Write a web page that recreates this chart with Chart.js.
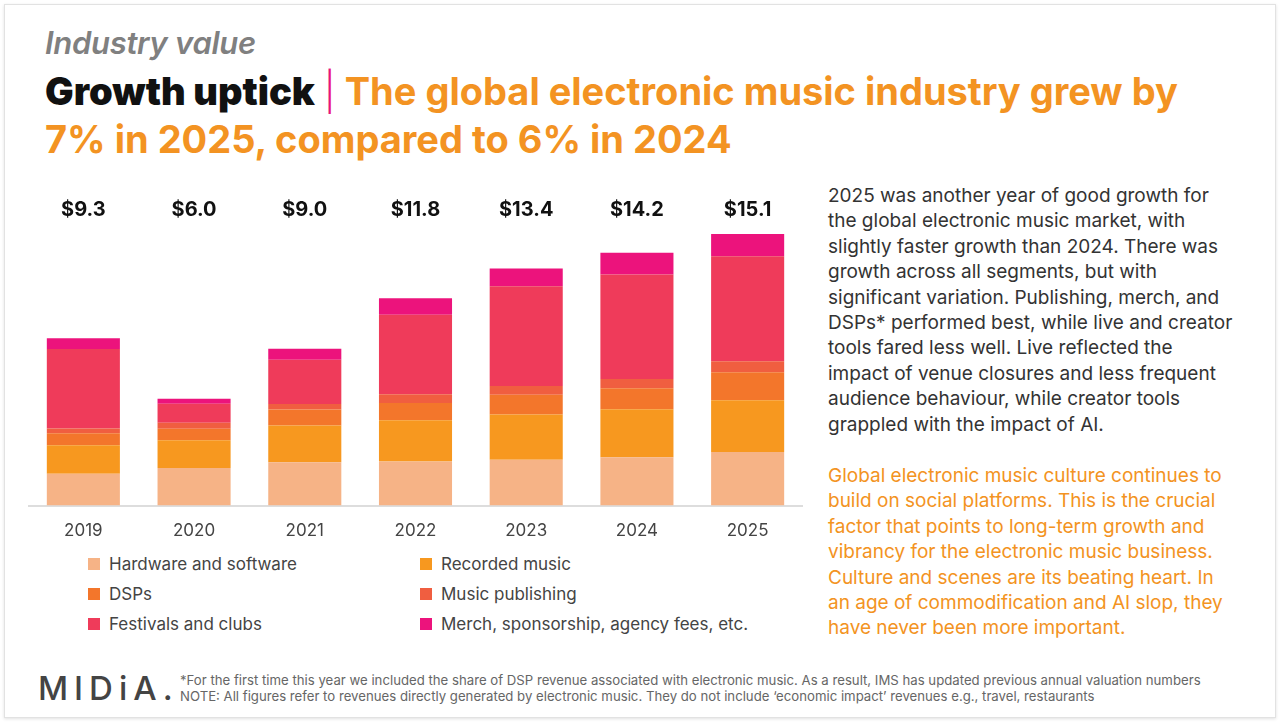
<!DOCTYPE html>
<html>
<head>
<meta charset="utf-8">
<script src="https://cdn.jsdelivr.net/npm/chart.js@4"></script>
<style>
  body { margin: 0; width: 1280px; height: 723px; background: #fff; font-family: Inter, "Noto Sans", sans-serif; overflow: hidden; position: relative; }
  .frame { position: absolute; left: 4px; top: 4px; width: 1270px; height: 712px; border: 1px solid #e2e2e2; box-shadow: 0 1px 3px rgba(0,0,0,0.12); }
  .kicker { position: absolute; left: 45px; top: 24px; font-size: 31px; font-style: italic; font-weight: 600; color: #808080; letter-spacing: -0.3px; }
  .title { position: absolute; left: 45px; top: 67px; width: 1220px; font-size: 38px; font-weight: 700; line-height: 48px; color: #f39322; letter-spacing: 0px; }
  .title b { color: #111; }
  .title .bar { color: #e8127c; font-weight: 300; }
  #wrap { position: absolute; left: 28px; top: 190px; width: 775px; height: 358px; }
  .legend { position: absolute; left: 88px; top: 552px; display: grid; grid-template-columns: 332px 350px; row-gap: 6px; font-size: 17px; color: #444; }
  .legend div { display: flex; align-items: center; height: 24px; }
  .legend span { display: inline-block; width: 12px; height: 12px; margin-right: 9px; }
  .side { position: absolute; left: 828px; top: 183px; width: 410px; font-size: 19px; line-height: 25.4px; color: #333; }
  .side2 { top: 463px; color: #f39322; }
  .logo { position: absolute; left: 38px; top: 668px; font-size: 33px; letter-spacing: 6px; color: #444; font-weight: 500; }
  .notes { position: absolute; left: 180px; top: 672px; font-size: 13.2px; line-height: 16px; color: #666; }
</style>
</head>
<body>
<div class="frame"></div>
<div class="kicker">Industry value</div>
<div class="title"><b>Growth uptick</b> <span class="bar">|</span> The global electronic music industry grew by<br>7% in 2025, compared to 6% in 2024</div>
<div id="wrap"><canvas id="chart"></canvas></div>
<div class="legend" id="legend"></div>
<div class="side">2025 was another year of good growth for the global electronic music market, with slightly faster growth than 2024. There was growth across all segments, but with significant variation. Publishing, merch, and DSPs* performed best, while live and creator tools fared less well. Live reflected the impact of venue closures and less frequent audience behaviour, while creator tools grappled with the impact of AI.</div>
<div class="side side2">Global electronic music culture continues to build on social platforms. This is the crucial factor that points to long-term growth and vibrancy for the electronic music business. Culture and scenes are its beating heart. In an age of commodification and AI slop, they have never been more important.</div>
<div class="logo">MIDiA.</div>
<div class="notes">*For the first time this year we included the share of DSP revenue associated with electronic music. As a result, IMS has updated previous annual valuation numbers<br>NOTE: All figures refer to revenues directly generated by electronic music. They do not include ‘economic impact’ revenues e.g., travel, restaurants</div>
<script>
const years = ["2019", "2020", "2021", "2022", "2023", "2024", "2025"];
const totals = ["$9.3", "$6.0", "$9.0", "$11.8", "$13.4", "$14.2", "$15.1"];
const hardware = [1.77, 2.08, 2.40, 2.45, 2.55, 2.68, 2.98];
const recorded = [1.58, 1.54, 2.05, 2.29, 2.50, 2.66, 2.87];
const dsps = [0.67, 0.65, 0.88, 0.95, 1.10, 1.17, 1.55];
const publishing = [0.26, 0.32, 0.30, 0.49, 0.49, 0.52, 0.61];
const festivals = [4.41, 1.06, 2.46, 4.41, 5.53, 5.79, 5.83];
const merch = [0.60, 0.28, 0.61, 0.91, 0.99, 1.21, 1.23];

const series = [
  ["Hardware and software", hardware, "#f6b386"],
  ["Recorded music", recorded, "#f7981f"],
  ["DSPs", dsps, "#f3762b"],
  ["Music publishing", publishing, "#f05e40"],
  ["Festivals and clubs", festivals, "#ef3b5a"],
  ["Merch, sponsorship, agency fees, etc.", merch, "#ec137c"]
];

const legend = document.getElementById("legend");
series.forEach(s => {
  const d = document.createElement("div");
  d.innerHTML = '<span style="background:' + s[2] + '"></span>' + s[0];
  legend.appendChild(d);
});

// totals written along the top of the plot
const totalsPlugin = {
  id: "totals",
  afterDraw(chart) {
    const c = chart.ctx, x = chart.scales.x;
    c.save();
    c.font = "700 20px Inter, sans-serif";
    c.fillStyle = "#111";
    c.textAlign = "center";
    c.textBaseline = "middle";
    totals.forEach((t, i) => c.fillText(t, x.getPixelForValue(i), 20));
    c.restore();
  }
};

new Chart(document.getElementById("chart"), {
  type: "bar",
  data: {
    labels: years,
    datasets: series.map(s => ({
      label: s[0], data: s[1], backgroundColor: s[2],
      borderWidth: 0, categoryPercentage: 0.66, barPercentage: 1
    }))
  },
  options: {
    responsive: true, maintainAspectRatio: false, animation: false,
    layout: { padding: { top: 20 } },
    plugins: { legend: { display: false }, tooltip: { enabled: false } },
    scales: {
      x: {
        stacked: true,
        grid: { display: false },
        border: { color: "#dddddd", width: 2 },
        ticks: { color: "#444", font: { size: 17, family: "Inter" }, padding: 7 }
      },
      y: { stacked: true, display: false, min: 0, max: 16.4 }
    }
  },
  plugins: [totalsPlugin]
});
</script>
</body>
</html>
